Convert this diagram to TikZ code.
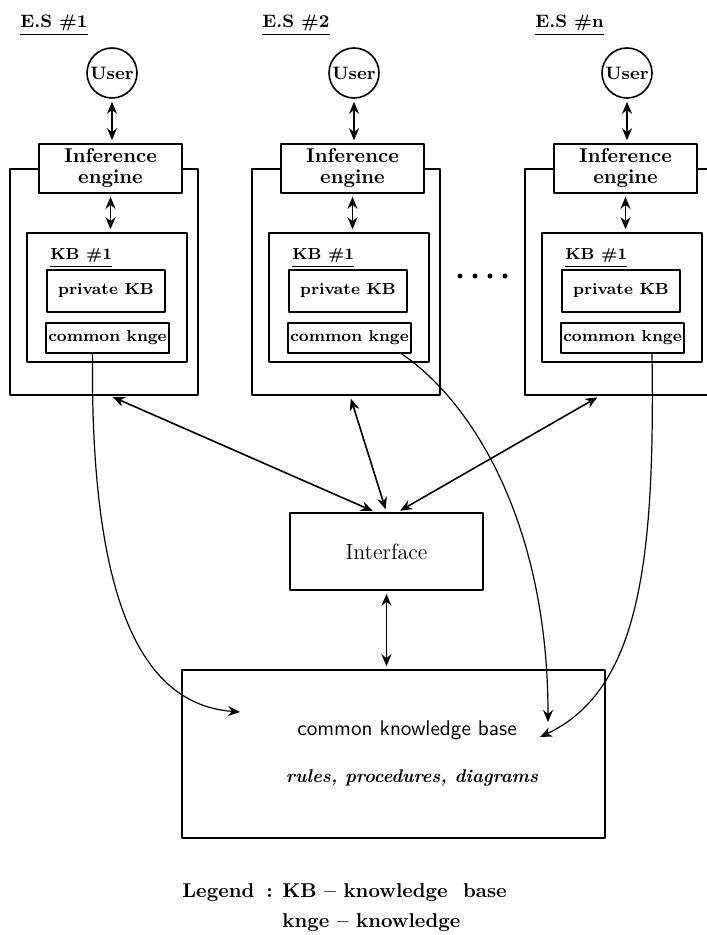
\documentclass[tikz,border=0pt]{standalone}
\usetikzlibrary{positioning,calc,arrows.meta}
\tikzset{
  box/.style={draw,line width=.8pt,inner sep=1pt,align=center,fill=white},
  usr/.style={draw,circle,line width=.8pt,inner sep=.5pt,minimum size=25pt,font=\small\bfseries},
  lbl/.style={anchor=base west,inner sep=0pt},
  dbl/.style={<->,line width=.8pt,shorten <=1.5pt,shorten >=1.5pt},
  lnk/.style={->,line width=.6pt}
}
\begin{document}
\begin{tikzpicture}[x=.5pt,y=-.5pt,line join=round,>={Stealth[length=6pt,width=5pt]}]
\useasboundingbox (0,0) rectangle (706,935);
% the three expert systems
\foreach \i/\dx in {1/0,2/242,n/515}{
  \node[lbl,font=\small\bfseries] (hd\i) at (20+\dx,28) {\underline{E.S\ \#\i}};
  \node[box,minimum width=94pt,minimum height=113pt] (es\i) at (104+\dx,282) {};
  \node[usr] (user\i) at (112+\dx,73) {User};
  \node[box,minimum width=71.5pt,minimum height=24.5pt,font=\bfseries] (ie\i) at (110.5+\dx,168.5) {Inference\\[-1.5pt]engine};
  \node[box,minimum width=80pt,minimum height=64.5pt] (kb\i) at (107+\dx,297.5) {};
  \node[lbl,font=\footnotesize\bfseries] (kbl\i) at (50+\dx,260) {\underline{KB\ \#1}};
  \node[box,minimum width=59pt,minimum height=21pt,font=\footnotesize\bfseries] (pkb\i) at (106+\dx,291) {private KB};
  \node[box,minimum width=60.5pt,minimum height=15pt,font=\footnotesize\bfseries] (ck\i) at (107.5+\dx,338) {common knge};
  \draw[dbl] (user\i) -- (user\i |- ie\i.north);
  \draw[dbl] (ie\i) -- (ie\i |- kb\i.north);
}
\foreach \x in {460,475,490,505} \fill (\x,276) circle (2.5);
\node[box,minimum width=96.5pt,minimum height=38.5pt,font=\fontsize{11}{13}\selectfont] (iface) at (386.5,551.5) {Interface};
\node[box,minimum width=211.5pt,minimum height=84pt] (ckb) at (393.5,754) {};
\node[font=\fontsize{10.6}{12}\sffamily] (ckbt) at (407,730) {common knowledge base};
\node[font=\fontsize{9.2}{11}\bfseries\itshape] (ckbr) at (412,778) {rules, procedures, diagrams};
% legend
\node[lbl,font=\bfseries] (leg) at (182,897) {Legend};
\node[lbl,font=\bfseries] (legc) at (266,897) {:};
\node[lbl,font=\bfseries] (leg1) at (282,897) {KB -- knowledge\ \ base};
\node[lbl,font=\bfseries] (leg2) at (282,927) {knge -- knowledge};
% connectors
\draw[dbl] ([xshift=3pt]es1.south) -- ([xshift=-5.5pt]iface.north);
\draw[dbl] ([xshift=2pt]es2.south) -- (iface.north);
\draw[dbl] ([xshift=-9.5pt]esn.south) -- ([xshift=5.5pt]iface.north);
\draw[dbl] (iface) -- (iface |- ckb.north);
\coordinate (in1) at (240,712);
\coordinate (in2) at (548,722);
\coordinate (inn) at (540,737);
\draw[lnk] ([xshift=-7.5pt]ck1.south) .. controls (90,620) and (150,705) .. (in1);
\draw[lnk] ([xshift=-5pt]ck2.south east) .. controls (470,400) and (548,520) .. (in2);
\draw[lnk] ([xshift=14.75pt]ckn.south) .. controls (655,560) and (640,690) .. (inn);
\end{tikzpicture}
\end{document}
